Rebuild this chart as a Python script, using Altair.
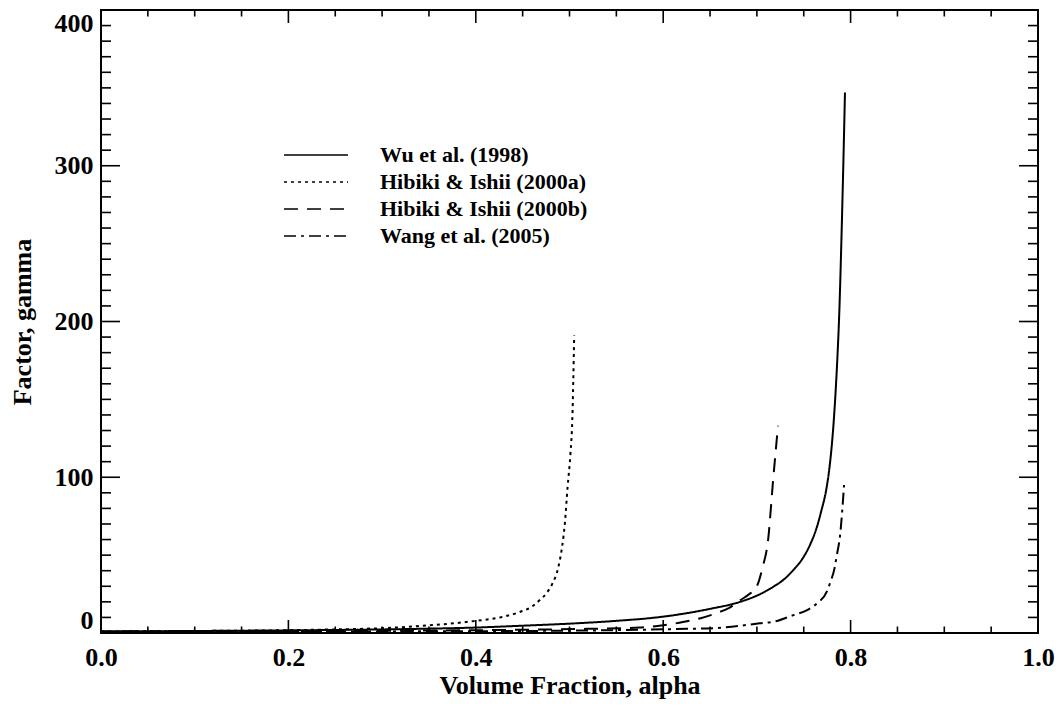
import altair as alt
import pandas as pd

# ---- data ----
names = ["Wu et al. (1998)", "Hibiki & Ishii (2000a)", "Hibiki & Ishii (2000b)", "Wang et al. (2005)"]

wu_x = [0.0, 0.1, 0.2, 0.3, 0.35, 0.4, 0.45, 0.5, 0.55, 0.6, 0.65, 0.682, 0.70, 0.717, 0.73, 0.739,
        0.75, 0.757, 0.764, 0.769, 0.774, 0.777, 0.780, 0.782, 0.784, 0.786, 0.788, 0.790, 0.792, 0.794]
wu_y = [1.0, 1.3, 1.7, 2.3, 2.8, 3.5, 4.7, 6.0, 7.8, 10.5, 15.5, 20.0, 24.0, 29.5, 35.0, 40.5,
        49.0, 57.0, 68.0, 79.0, 92.0, 104.0, 121.0, 136.0, 155.0, 178.0, 207.0, 248.0, 295.0, 347.0]

hia_x = [0.0, 0.1, 0.2, 0.25, 0.3, 0.35, 0.4, 0.43, 0.447, 0.46, 0.468, 0.476, 0.482, 0.488,
         0.492, 0.495, 0.498, 0.501, 0.503, 0.505]
hia_y = [1.0, 1.3, 1.8, 2.3, 3.1, 4.9, 7.8, 10.5, 13.5, 17.0, 21.0, 26.0, 32.0, 42.0,
         55.0, 70.0, 94.0, 115.0, 137.0, 191.0]

hib_x = [0.0, 0.2, 0.3, 0.4, 0.5, 0.575, 0.6, 0.621, 0.64, 0.657, 0.67, 0.682, 0.692, 0.70,
         0.706, 0.712, 0.717, 0.7225]
hib_y = [1.0, 1.2, 1.4, 1.8, 2.5, 3.5, 5.0, 7.0, 9.5, 12.8, 16.0, 21.0, 25.0, 30.0,
         42.0, 60.0, 96.0, 133.0]

wang_x = [0.0, 0.3, 0.5, 0.61, 0.657, 0.703, 0.72, 0.739, 0.753, 0.764, 0.775, 0.778, 0.783,
          0.785, 0.789, 0.791, 0.793]
wang_y = [0.8, 1.0, 1.5, 2.5, 3.2, 6.2, 7.5, 11.5, 14.5, 19.0, 27.0, 32.0, 42.0,
          49.0, 64.0, 78.0, 95.0]

x_ticks = [0.0, 0.2, 0.4, 0.6, 0.8, 1.0]
x_minor = [0.05, 0.1, 0.15, 0.25, 0.3, 0.35, 0.45, 0.5, 0.55, 0.65, 0.7, 0.75, 0.85, 0.9, 0.95]
y_ticks = [0, 100, 200, 300, 400]
y_minor = [v for v in range(10, 400, 10) if v % 100 != 0]

rows = []
for nm, xs, ys in zip(names, [wu_x, hia_x, hib_x, wang_x], [wu_y, hia_y, hib_y, wang_y]):
    for a, g in zip(xs, ys):
        rows.append({"alpha": a, "gamma": g, "model": nm})
df = pd.DataFrame(rows)

W, H = 937, 623
FONT = "Liberation Serif"
XT = "Volume Fraction, alpha"
YT = "Factor, gamma"

xscale = alt.Scale(domain=[0, 1], nice=False, zero=False)
yscale = alt.Scale(domain=[0, 400], nice=False, zero=False)

x_axis = alt.Axis(title=XT, values=x_ticks, format=".1f", labelPadding=11, titlePadding=2,
                  labelFlush=False, labelOverlap=False)
y_axis = alt.Axis(title=YT, values=y_ticks, format="d", labelPadding=8, labelFlush=True,
                  titlePadding=19)

dashes = [[1, 0], [3, 4], [14, 9], [12, 5, 3, 5]]

lines = alt.Chart(df).mark_line(color="black", strokeWidth=2, interpolate="monotone").encode(
    x=alt.X("alpha:Q", scale=xscale, axis=x_axis),
    y=alt.Y("gamma:Q", scale=yscale, axis=y_axis),
    strokeDash=alt.StrokeDash(
        "model:N", sort=names,
        scale=alt.Scale(domain=names, range=dashes),
        legend=alt.Legend(orient="none", legendX=182, legendY=134, title=None,
                          symbolType="stroke", symbolSize=4096, symbolStrokeWidth=1.6,
                          symbolStrokeColor="black", labelFont=FONT, labelFontSize=22,
                          labelFontWeight="bold", labelColor="black", labelOffset=31,
                          labelLimit=0, clipHeight=22, rowPadding=5, padding=0),
    ),
)

def xticks(vals, y0, y1):
    return alt.Chart(pd.DataFrame({"t": vals})).mark_rule(color="black", strokeWidth=1.6).encode(
        x=alt.X("t:Q", scale=xscale, axis=x_axis), y=alt.value(y0), y2=alt.value(y1))

def yticks(vals, x0, x1):
    return alt.Chart(pd.DataFrame({"t": vals})).mark_rule(color="black", strokeWidth=1.6).encode(
        y=alt.Y("t:Q", scale=yscale, axis=y_axis), x=alt.value(x0), x2=alt.value(x1))

layers = [
    lines,
    xticks(x_ticks, H, H - 13), xticks(x_minor, H, H - 6.5),
    xticks(x_ticks, 0, 13), xticks(x_minor, 0, 6.5),
    yticks(y_ticks, 0, 19), yticks(y_minor, 0, 10),
    yticks(y_ticks, W, W - 19), yticks(y_minor, W, W - 10),
]

chart = alt.layer(*layers).properties(
    width=W, height=H,
    padding={"left": 101, "top": 10, "right": 24, "bottom": 73},
    autosize=alt.AutoSizeParams(type="none"),
    background="white",
).configure_view(
    stroke="black", strokeWidth=2
).configure_axis(
    grid=False, ticks=False, domain=False,
    labelFont=FONT, labelFontSize=26, labelFontWeight="bold", labelColor="black",
    titleFont=FONT, titleFontSize=26, titleFontWeight="bold", titleColor="black",
)

chart.save("out.html", embed_options={"renderer": "svg", "actions": False})
